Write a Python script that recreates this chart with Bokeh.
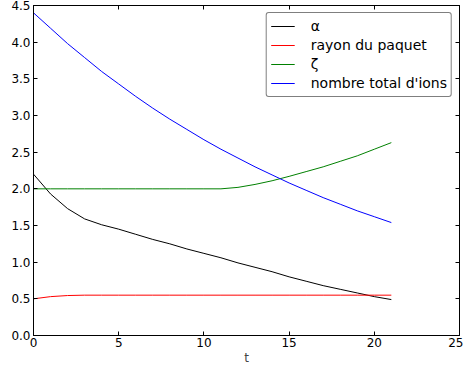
from bokeh.plotting import figure
from bokeh.models import LinearAxis, FixedTicker, Range1d, Legend, CustomJSTickFormatter
from bokeh.embed import file_html
from bokeh.resources import INLINE

t = list(range(22))
alpha = [2.20, 1.93, 1.73, 1.59, 1.51, 1.45, 1.38, 1.31, 1.25, 1.18, 1.12,
         1.06, 0.99, 0.93, 0.87, 0.80, 0.74, 0.68, 0.63, 0.58, 0.53, 0.49]
rayon = [0.50, 0.53, 0.545, 0.55, 0.55, 0.55, 0.55, 0.55, 0.55, 0.55, 0.55,
         0.55, 0.55, 0.55, 0.55, 0.55, 0.55, 0.55, 0.55, 0.55, 0.55, 0.55]
zeta = [2.0, 2.0, 2.0, 2.0, 2.0, 2.0, 2.0, 2.0, 2.0, 2.0, 2.0,
        2.0, 2.02, 2.06, 2.11, 2.17, 2.235, 2.30, 2.375, 2.45, 2.54, 2.63]
ions = [4.40, 4.19, 3.98, 3.79, 3.60, 3.43, 3.26, 3.10, 2.95, 2.81, 2.67,
        2.54, 2.42, 2.30, 2.19, 2.08, 1.98, 1.88, 1.79, 1.70, 1.62, 1.54]
labels = ["α", "rayon du paquet", "ζ", "nombre total d'ions"]
xticks = [0, 5, 10, 15, 20, 25]
yticks = [0.0, 0.5, 1.0, 1.5, 2.0, 2.5, 3.0, 3.5, 4.0, 4.5]

FONT = "DejaVu Sans"

p = figure(width=463, height=367, output_backend="svg", toolbar_location=None,
           x_range=Range1d(0, 25), y_range=Range1d(0, 4.5),
           frame_width=426, frame_height=330,
           min_border_left=33, min_border_right=4, min_border_top=5, min_border_bottom=32,
           x_axis_label="t")
p.grid.visible = False
p.outline_line_color = "black"
p.outline_line_width = 1

r1 = p.line(t, alpha, line_color="black", line_width=1)
r2 = p.line(t, rayon, line_color="red", line_width=1)
r3 = p.line(t, zeta, line_color="green", line_width=1)
r4 = p.line(t, ions, line_color="blue", line_width=1)

def style(ax, show_labels=True):
    ax.major_tick_in = 4
    ax.major_tick_out = 0
    ax.minor_tick_line_color = None
    ax.axis_line_color = "black"
    ax.major_label_text_font = FONT
    ax.major_label_text_font_size = "12px"
    ax.major_label_text_color = "black" if show_labels else None
    ax.major_label_standoff = 3
    ax.axis_label_text_font = FONT
    ax.axis_label_text_font_size = "12px"
    ax.axis_label_text_font_style = "normal"
    ax.axis_label_standoff = 1

p.xaxis.ticker = FixedTicker(ticks=xticks)
p.yaxis.ticker = FixedTicker(ticks=yticks)
p.yaxis.formatter = CustomJSTickFormatter(code="return tick.toFixed(1);")
for ax in p.xaxis + p.yaxis:
    style(ax)
p.xaxis.major_label_standoff = 2

top = LinearAxis(ticker=FixedTicker(ticks=xticks))
right = LinearAxis(ticker=FixedTicker(ticks=yticks))
style(top, False)
style(right, False)
top.major_label_text_font_size = "0px"
right.major_label_text_font_size = "0px"
top.major_label_standoff = 0
right.major_label_standoff = 0
p.add_layout(top, "above")
p.add_layout(right, "right")

legend = Legend(items=[(labels[0], [r1]), (labels[1], [r2]), (labels[2], [r3]), (labels[3], [r4])],
                location="top_right")
legend.label_text_font = FONT
legend.label_text_font_size = "14px"
legend.border_line_color = "black"
legend.border_line_width = 1
legend.border_radius = 3
legend.glyph_width = 24
legend.glyph_height = 18
legend.label_height = 18
legend.spacing = 1
legend.padding = 4
legend.margin = 7
legend.label_standoff = 16
legend.label_text_color = "black"
p.add_layout(legend)

open("out.html", "w").write(file_html(p, INLINE))
